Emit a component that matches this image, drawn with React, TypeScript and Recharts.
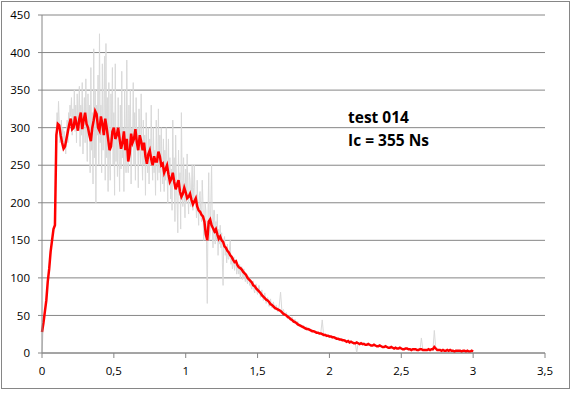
import { LineChart, Line, XAxis, YAxis, CartesianGrid } from "recharts";

// red = filtered signal, one value every 0.01 s from 0 to 3
const RED_STEP = 0.01;
const redValues = [
  28, 40, 55, 70, 95, 112, 135, 150, 165, 170,
  290, 305, 303, 290, 280, 272, 275, 285, 295, 305,
  312, 298, 300, 315, 305, 296, 312, 320, 298, 310,
  320, 305, 300, 290, 282, 300, 310, 322, 318, 300,
  296, 315, 305, 290, 312, 300, 285, 270, 275, 295,
  300, 285, 290, 300, 285, 272, 280, 295, 270, 285,
  255, 265, 292, 280, 285, 298, 280, 270, 290, 282,
  270, 280, 262, 252, 265, 270, 258, 250, 262, 255,
  255, 268, 262, 250, 252, 240, 245, 250, 238, 228,
  232, 240, 228, 218, 224, 230, 215, 208, 212, 220,
  214, 206, 208, 212, 204, 198, 202, 206, 195, 190,
  188, 184, 182, 175, 158, 150, 175, 178, 170, 166,
  162, 165, 158, 152, 155, 150, 148, 142, 140, 136,
  134, 130, 128, 124, 121, 122, 117, 114, 113, 111,
  108, 106, 104, 100, 98, 96, 94, 90, 89, 86,
  84, 82, 80, 77, 75, 73, 71, 70, 68, 65,
  64, 62, 60, 59, 58, 57, 56, 54, 52, 51,
  50, 48, 47, 45, 44, 42, 41, 40, 38, 37,
  36, 35, 34, 33, 32, 32, 31, 30, 29, 29,
  28, 27, 27, 26, 26, 25, 24, 24, 23, 23,
  22, 22, 21, 21, 20, 19, 19, 18, 18, 17,
  17, 16, 15, 16, 14, 15, 14, 13, 13, 14,
  13, 12, 13, 12, 12, 11, 11, 12, 11, 10,
  10, 11, 10, 9, 9, 10, 9, 8, 8, 9,
  8, 7, 7, 8, 7, 6, 7, 6, 6, 7,
  6, 5, 5, 6, 6, 5, 5, 4, 5, 5,
  5, 4, 4, 5, 5, 4, 4, 4, 4, 5,
  4, 5, 5, 8, 6, 4, 4, 4, 3, 4,
  3, 3, 4, 3, 4, 3, 3, 2, 3, 3,
  3, 3, 2, 3, 3, 2, 3, 2, 2, 3,
  2,
];

// gray = raw signal; dense part 0..1.5 every 0.005 s
const GRAY_HEAD_STEP = 0.005;
const grayHead = [
  0, 20, 40, 48, 55, 62, 70, 82, 95, 105,
  112, 125, 135, 142, 150, 158, 165, 168, 170, 230,
  290, 320, 300, 335, 305, 280, 295, 310, 285, 300,
  270, 295, 285, 265, 290, 310, 280, 320, 305, 330,
  315, 340, 290, 325, 300, 350, 295, 330, 280, 345,
  300, 320, 355, 275, 330, 290, 360, 265, 310, 340,
  280, 365, 300, 255, 345, 290, 330, 240, 380, 270,
  320, 225, 405, 260, 350, 200, 330, 290, 370, 250,
  425, 280, 330, 240, 385, 270, 310, 395, 230, 412,
  260, 340, 215, 360, 270, 230, 345, 290, 380, 250,
  320, 210, 385, 255, 300, 235, 340, 270, 215, 330,
  245, 375, 260, 300, 215, 350, 280, 240, 390, 270,
  240, 330, 265, 350, 225, 300, 275, 360, 250, 320,
  230, 340, 270, 300, 220, 325, 285, 250, 345, 265,
  230, 310, 250, 290, 210, 320, 260, 240, 300, 225,
  285, 250, 330, 260, 230, 300, 240, 270, 210, 310,
  255, 230, 325, 240, 290, 215, 300, 250, 225, 285,
  215, 270, 230, 300, 245, 200, 285, 225, 260, 205,
  245, 190, 310, 225, 260, 175, 290, 230, 200, 160,
  270, 210, 240, 165, 320, 230, 195, 260, 215, 180,
  245, 200, 265, 215, 185, 240, 230, 195, 215, 250,
  190, 220, 250, 200, 205, 180, 230, 195, 170, 210,
  215, 185, 175, 230, 200, 150, 165, 200, 190, 145,
  66, 180, 240, 150, 160, 200, 250, 170, 140, 190,
  190, 145, 175, 150, 185, 130, 165, 145, 170, 140,
  160, 120, 90, 150, 155, 130, 140, 120, 145, 125,
  125, 140, 150, 118, 130, 112, 118, 128, 110, 120,
  125, 105, 120, 110, 105, 118, 100, 112, 115, 98,
  100, 112, 104, 95, 106, 98, 92, 102, 100, 90,
  96, 88, 85, 95, 96, 84, 80, 90, 92, 82,
  78,
];

// gray tail 1.51..3 every 0.01 s
const GRAY_TAIL_START = 1.51;
const GRAY_TAIL_STEP = 0.01;
const grayTail = [
  90, 74, 84, 70, 80, 66, 74, 62, 72,
  60, 68, 58, 64, 55, 62, 81, 54, 58, 50,
  54, 46, 50, 44, 48, 40, 45, 38, 42, 36,
  38, 34, 37, 31, 35, 30, 33, 29, 31, 28,
  29, 26, 28, 25, 27, 44, 23, 26, 21, 24,
  20, 23, 19, 22, 18, 21, 17, 20, 16, 19,
  16, 18, 14, 17, 13, 16, 12, 15, 13, 0,
  14, 11, 13, 10, 14, 11, 12, 10, 12, 9,
  11, 9, 10, 8, 11, 9, 10, 8, 9, 7,
  9, 7, 9, 6, 8, 7, 8, 6, 8, 5,
  7, 5, 7, 5, 6, 4, 6, 5, 6, 4,
  5, 4, 6, 4, 20, 4, 5, 3, 5, 4,
  4, 5, 3, 30, 5, 3, 4, 3, 4, 3,
  4, 2, 3, 3, 4, 2, 3, 3, 4, 2,
  3, 2, 3, 2, 3, 2, 3, 2, 3, 2,
  2,
];

const xTicks = [0, 0.5, 1, 1.5, 2, 2.5, 3, 3.5];
const yTicks = [0, 50, 100, 150, 200, 250, 300, 350, 400, 450];
const labels = ["test 014", "Ic = 355 Ns"];

const redData = redValues.map((v, i) => ({ t: +(i * RED_STEP).toFixed(3), v }));
const grayData = [
  ...grayHead.map((v, i) => ({ t: +(i * GRAY_HEAD_STEP).toFixed(3), v })),
  ...grayTail.map((v, i) => ({ t: +(GRAY_TAIL_START + i * GRAY_TAIL_STEP).toFixed(3), v })),
];

const axisColor = "#868686";
const tickStyle = { fill: "#000", fontSize: 11.5, fontFamily: "Open Sans" };

export default function App() {
  return (
    <div style={{ position: "absolute", left: 0, top: 0, width: 573, height: 393, background: "#fff" }}>
      <div
        style={{
          position: "absolute",
          left: 1,
          top: 1,
          width: 569,
          height: 388,
          boxSizing: "border-box",
          border: `1px solid ${axisColor}`,
        }}
      />
      <LineChart width={573} height={393} margin={{ top: 15, right: 28, bottom: 20, left: 0 }}>
        <CartesianGrid vertical={false} stroke={axisColor} horizontalValues={yTicks} />
        <XAxis
          type="number"
          dataKey="t"
          domain={[0, 3.5]}
          ticks={xTicks}
          height={20}
          stroke={axisColor}
          tickSize={5}
          tickMargin={9}
          tick={tickStyle}
          tickFormatter={(v) => String(v).replace(".", ",")}
        />
        <YAxis
          type="number"
          domain={[0, 450]}
          ticks={yTicks}
          width={42}
          stroke={axisColor}
          tickSize={4}
          tickMargin={8}
          tick={tickStyle}
        />
        <Line
          data={grayData}
          dataKey="v"
          stroke="#d9d9d9"
          strokeWidth={1}
          dot={false}
          isAnimationActive={false}
        />
        <Line
          data={redData}
          dataKey="v"
          stroke="#ff0000"
          strokeWidth={2.5}
          dot={false}
          isAnimationActive={false}
        />
      </LineChart>
      <svg width={573} height={393} style={{ position: "absolute", left: 0, top: 0, pointerEvents: "none" }}>
        <text x={348} y={123} fontFamily="Open Sans" fontWeight={700} fontSize={15.5} fill="#000">
          {labels[0]}
        </text>
        <text x={348} y={146} fontFamily="Open Sans" fontWeight={700} fontSize={15.5} fill="#000">
          {labels[1]}
        </text>
      </svg>
    </div>
  );
}
